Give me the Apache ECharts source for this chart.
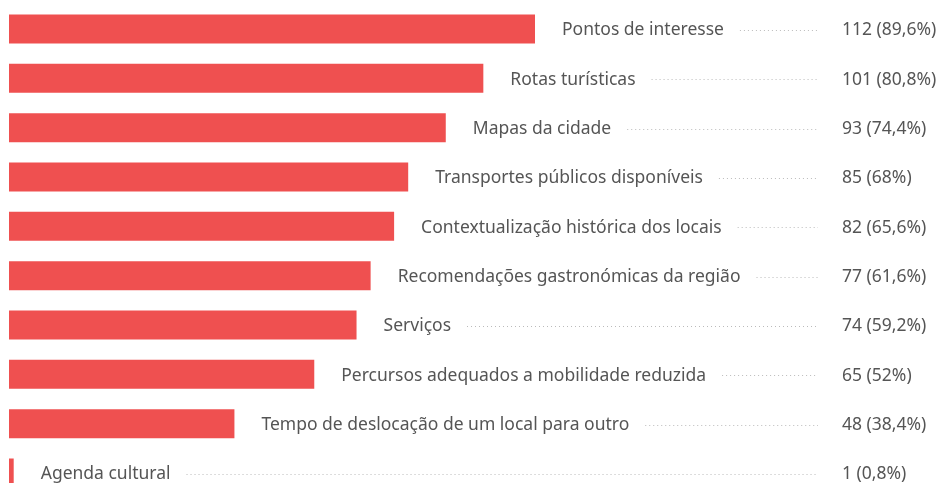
<!DOCTYPE html>
<html>
<head>
<meta charset="utf-8">
<script src="https://cdn.jsdelivr.net/npm/echarts@6/dist/echarts.min.js"></script>
<style>
  html, body { margin: 0; padding: 0; background: #fff; }
  #chart { width: 939px; height: 483px; }
</style>
</head>
<body>
<div id="chart"></div>
<script>
// categories and answers, top to bottom
const categories = [
  'Pontos de interesse',
  'Rotas turísticas',
  'Mapas da cidade',
  'Transportes públicos disponíveis',
  'Contextualização histórica dos locais',
  'Recomendações gastronómicas da região',
  'Serviços',
  'Percursos adequados a mobilidade reduzida',
  'Tempo de deslocação de um local para outro',
  'Agenda cultural'
]
const counts = [112, 101, 93, 85, 82, 77, 74, 65, 48, 1]
const percents = ['89,6%', '80,8%', '74,4%', '68%', '65,6%', '61,6%', '59,2%', '52%', '38,4%', '0,8%']

const FONT = '17.5px "Noto Sans"'
const TEXT_COLOR = '#555'
const BAR_COLOR = '#EF5050'

const measureCtx = document.createElement('canvas').getContext('2d')
function textWidth(s) {
  measureCtx.font = FONT
  return measureCtx.measureText(s).width
}

const chart = echarts.init(document.getElementById('chart'))

chart.setOption({
  animation: false,
  // rows sit on the ticks: first at y=29, last at y=473
  grid: { left: 9, top: 29, width: 526, height: 444 },
  xAxis: { type: 'value', min: 0, max: 112, show: false },
  yAxis: { type: 'category', inverse: true, boundaryGap: false, data: categories, show: false },
  series: [
    {
      type: 'bar',
      barWidth: 29,
      itemStyle: { color: BAR_COLOR },
      data: counts
    },
    {
      type: 'custom',
      data: counts.map((v, i) => [v, i]),
      renderItem(params, api) {
        const i = api.value(1)
        const end = api.coord([api.value(0), i])
        const name = categories[i]
        const lx = end[0] + 27
        const y = end[1] + 1.5
        const ly = Math.round(end[1]) + 1.5
        const w = textWidth(name)
        return {
          type: 'group',
          children: [
            {
              type: 'text',
              style: {
                x: lx, y: y, text: name, font: FONT, fill: TEXT_COLOR,
                verticalAlign: 'middle', align: 'left'
              }
            },
            {
              type: 'line',
              shape: { x1: lx + w + 16, y1: ly, x2: 818, y2: ly },
              style: { stroke: '#bbb', lineWidth: 1, lineDash: [1, 3] }
            },
            {
              type: 'text',
              style: {
                x: 842, y: y, text: counts[i] + ' (' + percents[i] + ')',
                font: FONT, fill: TEXT_COLOR, verticalAlign: 'middle', align: 'left'
              }
            }
          ]
        }
      }
    }
  ]
})
</script>
</body>
</html>
